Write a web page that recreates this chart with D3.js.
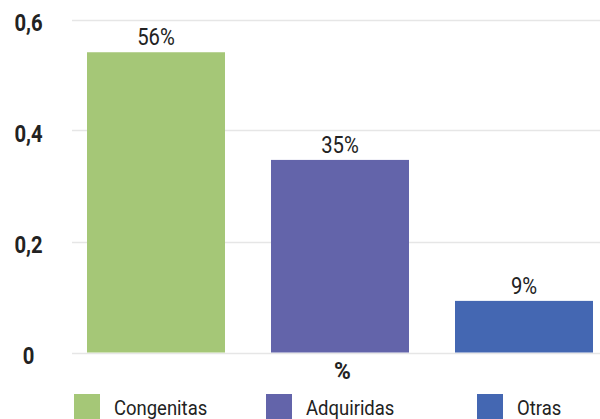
<!DOCTYPE html>
<html><head><meta charset="utf-8">
<script src="https://cdn.jsdelivr.net/npm/d3@7"></script>
<style>body{margin:0;background:#fff}svg{display:block}</style>
</head><body>
<svg id="c" width="600" height="419"></svg>
<script>
const categories = ["Congenitas", "Adquiridas", "Otras"];
const values = [0.541, 0.347, 0.093];
const labels = ["56%", "35%", "9%"];
const colors = ["#a5c777", "#6364aa", "#4467b2"];
const yTicks = [0, 0.2, 0.4, 0.6];
const yTickLabels = ["0", "0,2", "0,4", "0,6"];
const axisTitle = "%";

const svg = d3.select("#c");
const font = "Roboto, 'Liberation Sans', sans-serif";
const sx = 0.88;
const y = d3.scaleLinear().domain([0, 0.6]).range([352.5, 19.5]);
const x = d3.scaleBand().domain(categories).range([64, 616]).paddingInner(0.25).paddingOuter(0.125);

svg.append("g").selectAll("line").data(yTicks).join("line")
  .attr("x1", 72).attr("x2", 600)
  .attr("y1", d => Math.round(y(d)) + 0.5).attr("y2", d => Math.round(y(d)) + 0.5)
  .attr("stroke", "#e6e6e6").attr("stroke-width", 1.5);

const tk = svg.append("g").selectAll("g").data(yTicks).join("g")
  .attr("transform", d => `translate(28.5,${y(d) + 11}) scale(${sx},1)`);
tk.append("text")
  .attr("text-anchor", "middle")
  .attr("font-family", font).attr("font-weight", "bold").attr("font-size", 23)
  .attr("fill", "#222")
  .text((d, i) => yTickLabels[i]);

svg.append("g").selectAll("rect").data(categories).join("rect")
  .attr("x", d => x(d)).attr("width", x.bandwidth())
  .attr("y", (d, i) => y(values[i])).attr("height", (d, i) => y(0) - y(values[i]))
  .attr("fill", (d, i) => colors[i]);

const vl = svg.append("g").selectAll("g").data(categories).join("g")
  .attr("transform", (d, i) => `translate(${x(d) + x.bandwidth() / 2},${y(values[i]) - 7}) scale(${sx},1)`);
vl.append("text")
  .attr("text-anchor", "middle")
  .attr("font-family", font).attr("font-size", 23).attr("fill", "#222")
  .text((d, i) => labels[i]);

svg.append("g").attr("transform", `translate(342.5,379) scale(0.95,1)`)
  .append("text")
  .attr("text-anchor", "middle")
  .attr("font-family", font).attr("font-weight", "bold").attr("font-size", 24).attr("fill", "#222")
  .text(axisTitle);

const legendX = [74, 266, 477];
const lg = svg.append("g").selectAll("g").data(categories).join("g")
  .attr("transform", (d, i) => `translate(${legendX[i]},394)`);
lg.append("rect").attr("width", 26).attr("height", 25).attr("fill", (d, i) => colors[i]);
lg.append("g").attr("transform", `translate(40,21) scale(${sx},1)`)
  .append("text")
  .attr("font-family", font).attr("font-size", 21).attr("fill", "#222")
  .text(d => d);
</script>
</body></html>
